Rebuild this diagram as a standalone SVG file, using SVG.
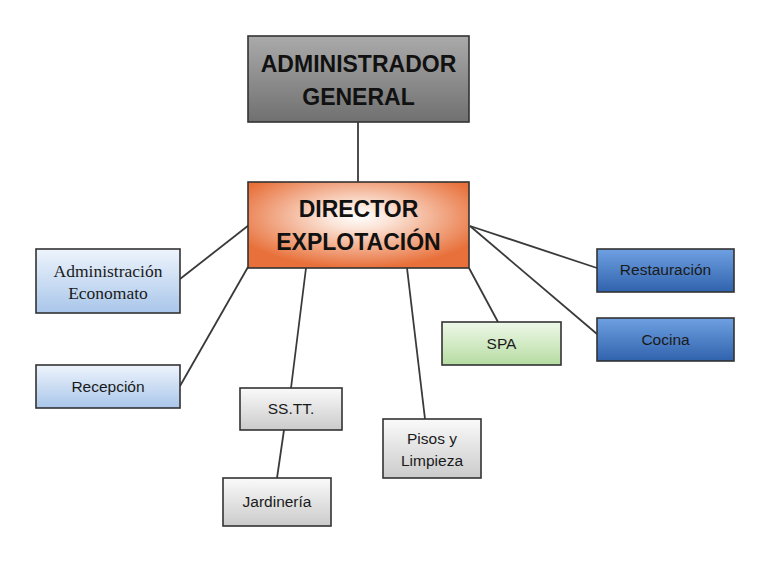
<svg xmlns="http://www.w3.org/2000/svg" width="768" height="568" viewBox="0 0 768 568">
  <defs>
    <linearGradient id="gGray" x1="0" y1="0" x2="0" y2="1">
      <stop offset="0" stop-color="#aaaaaa"/>
      <stop offset="1" stop-color="#707070"/>
    </linearGradient>
    <radialGradient id="gOrange" cx="0.5" cy="0.4" r="0.6">
      <stop offset="0" stop-color="#ffffff"/>
      <stop offset="0.25" stop-color="#fbe3d6"/>
      <stop offset="1" stop-color="#e8703a"/>
    </radialGradient>
    <linearGradient id="gLightBlue" x1="0" y1="0" x2="0" y2="1">
      <stop offset="0" stop-color="#eef4fc"/>
      <stop offset="1" stop-color="#a9c6ea"/>
    </linearGradient>
    <linearGradient id="gDarkBlue" x1="0" y1="0" x2="0" y2="1">
      <stop offset="0" stop-color="#6fa0e2"/>
      <stop offset="1" stop-color="#3063ad"/>
    </linearGradient>
    <linearGradient id="gGreen" x1="0" y1="0" x2="0" y2="1">
      <stop offset="0" stop-color="#eef8e8"/>
      <stop offset="1" stop-color="#b6dca2"/>
    </linearGradient>
    <linearGradient id="gLightGray" x1="0" y1="0" x2="0" y2="1">
      <stop offset="0" stop-color="#fafafa"/>
      <stop offset="1" stop-color="#cbcbcb"/>
    </linearGradient>
  </defs>
  <style>
    .box { stroke: #333333; stroke-width: 1.6; }
    .conn line { stroke: #3a3a3a; stroke-width: 1.8; }
    .big { font-family: "Liberation Sans", Arial, sans-serif; font-weight: bold; font-size: 23px; fill: #111111; text-anchor: middle; }
    .sm { font-family: "Liberation Sans", Arial, sans-serif; font-size: 15.5px; fill: #1a1a1a; text-anchor: middle; }
    .serif { font-family: "Liberation Serif", "Times New Roman", serif; font-size: 17.5px; fill: #1a1a1a; text-anchor: middle; }
  </style>
  <rect width="768" height="568" fill="#ffffff"/>

  <g id="connectors" class="conn">
    <line x1="358" y1="122" x2="358" y2="182"/>
    <line x1="249" y1="225" x2="180" y2="279"/>
    <line x1="248" y1="267" x2="180" y2="386"/>
    <line x1="470" y1="226" x2="597" y2="268"/>
    <line x1="470" y1="226" x2="597" y2="334"/>
    <line x1="469" y1="268" x2="498" y2="322"/>
    <line x1="407" y1="268" x2="425" y2="419"/>
    <line x1="306" y1="268" x2="291" y2="388"/>
    <line x1="284" y1="430" x2="277" y2="478"/>
  </g>

  <g id="admin-general">
    <rect class="box" x="248" y="36" width="221" height="86" fill="url(#gGray)"/>
    <text class="big" x="358.5" y="72">ADMINISTRADOR</text>
    <text class="big" x="358.5" y="105">GENERAL</text>
  </g>

  <g id="director">
    <rect class="box" x="248" y="182" width="221" height="86" fill="url(#gOrange)"/>
    <text class="big" x="358.5" y="217">DIRECTOR</text>
    <text class="big" x="358.5" y="250">EXPLOTACIÓN</text>
  </g>

  <g id="admin-economato">
    <rect class="box" x="36" y="249" width="144" height="64" fill="url(#gLightBlue)"/>
    <text class="serif" x="108" y="277">Administración</text>
    <text class="serif" x="108" y="299">Economato</text>
  </g>

  <g id="recepcion">
    <rect class="box" x="36" y="365" width="144" height="43" fill="url(#gLightBlue)"/>
    <text class="sm" x="108" y="392">Recepción</text>
  </g>

  <g id="restauracion">
    <rect class="box" x="597" y="249" width="137" height="43" fill="url(#gDarkBlue)"/>
    <text class="sm" x="665.5" y="275">Restauración</text>
  </g>

  <g id="cocina">
    <rect class="box" x="597" y="318" width="137" height="43" fill="url(#gDarkBlue)"/>
    <text class="sm" x="665.5" y="345">Cocina</text>
  </g>

  <g id="spa">
    <rect class="box" x="442" y="322" width="119" height="43" fill="url(#gGreen)"/>
    <text class="sm" x="501.5" y="349">SPA</text>
  </g>

  <g id="sstt">
    <rect class="box" x="240" y="388" width="102" height="42" fill="url(#gLightGray)"/>
    <text class="sm" x="291" y="414">SS.TT.</text>
  </g>

  <g id="pisos-limpieza">
    <rect class="box" x="383" y="419" width="98" height="59" fill="url(#gLightGray)"/>
    <text class="sm" x="432" y="444">Pisos y</text>
    <text class="sm" x="432" y="466">Limpieza</text>
  </g>

  <g id="jardineria">
    <rect class="box" x="223" y="478" width="108" height="48" fill="url(#gLightGray)"/>
    <text class="sm" x="277" y="507">Jardinería</text>
  </g>
</svg>
